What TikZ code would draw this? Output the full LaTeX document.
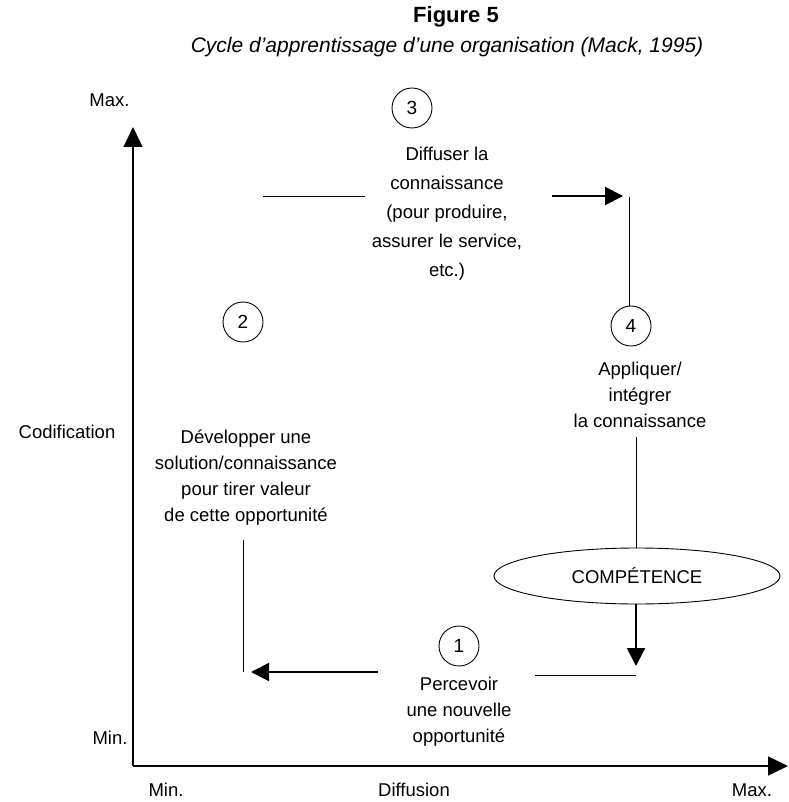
\documentclass[tikz,border=0pt]{standalone}
\usepackage{fontspec}
\setmainfont{Liberation Sans}
\usetikzlibrary{shapes.geometric,arrows.meta}
\begin{document}
\begin{tikzpicture}[x=1pt,y=-1pt,
  lbl/.style={font=\fontsize{18.5}{26}\selectfont},
  txt/.style={font=\fontsize{18.5}{26}\selectfont,align=center,inner sep=0pt},
  num/.style={draw,circle,minimum size=40pt,inner sep=0pt,font=\fontsize{19}{22}\selectfont,line width=0.9pt},
  ln/.style={line width=0.9pt},
  arr/.style={line width=2pt,-{Triangle[length=18pt,width=18pt]}},
  axis/.style={line width=1.4pt,-{Triangle[length=20pt,width=19pt]}}]
\useasboundingbox (0,0) rectangle (788,802);
% title
\node (title) at (456,17) {\fontsize{22}{25}\selectfont\bfseries Figure 5};
\node (sub) at (447,47) {\fontsize{21}{24}\selectfont\itshape Cycle d'apprentissage d'une organisation (Mack, 1995)};
% axes
\coordinate (O) at (133,766);
\coordinate (ytop) at (133,127);
\coordinate (xend) at (788,766);
\draw[axis] (O) -- (ytop);
\draw[axis] (O) -- (xend);
\node[lbl,anchor=east] (ymax) at (133,100) {Max.};
\node[lbl,anchor=east] (ymin) at (131,738) {Min.};
\node[lbl] (codif) at (67,432) {Codification};
\node[lbl] (xmin) at (166,790) {Min.};
\node[lbl] (diff) at (414,790) {Diffusion};
\node[lbl] (xmax) at (752,790) {Max.};
% step 3
\node[num] (c3) at (412,108) {3};
\node[txt,font=\fontsize{18.5}{29}\selectfont] (t3) at (447,214) {Diffuser la\\connaissance\\(pour produire,\\assurer le service,\\etc.)};
\coordinate (a3s) at (263,196);
\coordinate (a3e) at (365,196);
\coordinate (b3s) at (552,196);
\coordinate (b3e) at (623,196);
\draw[ln] (a3s) -- (a3e);
\draw[arr] (b3s) -- (b3e);
% step 4
\coordinate (v4s) at (629,197);
\node[num] (c4) at (631,326) {4};
\draw[ln] (v4s) -- (c4.north -| v4s);
\node[txt] (t4) at (640,395) {Appliquer/\\intégrer\\la connaissance};
\node[draw,ellipse,line width=0.9pt,minimum width=286pt,minimum height=56pt,font=\fontsize{18.5}{22}\selectfont] (comp) at (637,576) {COMPÉTENCE};
\coordinate (v5s) at (636,437);
\draw[ln] (v5s) -- (comp.north -| v5s);
\coordinate (d5e) at (636,666);
\draw[arr] (comp.south -| d5e) -- (d5e);
% step 1
\node[num] (c1) at (459,646) {1};
\node[txt] (t1) at (459,712) {Percevoir\\une nouvelle\\opportunité};
\coordinate (h1s) at (636,675);
\coordinate (h1e) at (535,675);
\draw[ln] (h1s) -- (h1e);
\coordinate (a1s) at (378,672);
\coordinate (a1e) at (251,672);
\draw[arr] (a1s) -- (a1e);
% step 2
\node[num] (c2) at (243,322) {2};
\node[txt] (t2) at (246,478) {Développer une\\solution/connaissance\\pour tirer valeur\\de cette opportunité};
\coordinate (v2s) at (243,672);
\coordinate (v2e) at (243,540);
\draw[ln] (v2s) -- (v2e);
\end{tikzpicture}
\end{document}
